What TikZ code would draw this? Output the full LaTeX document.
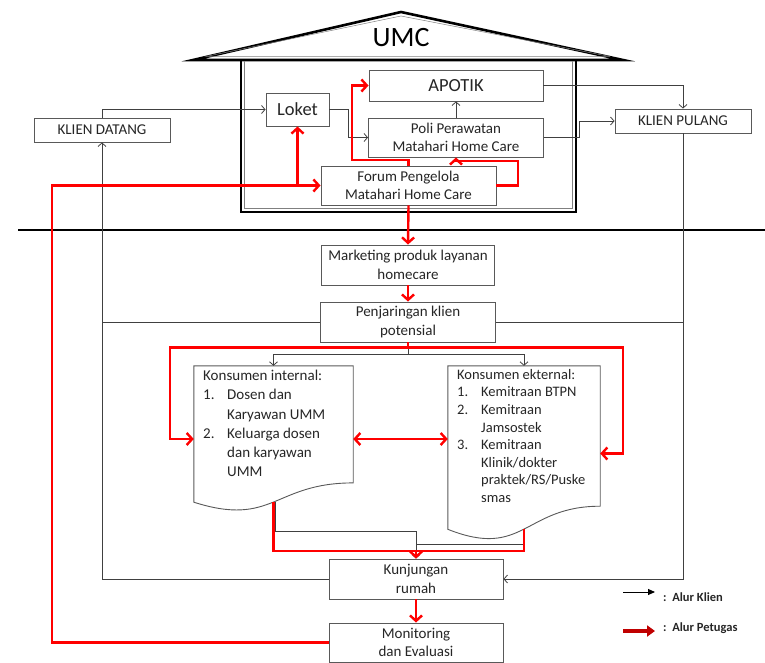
\documentclass[tikz,border=0pt]{standalone}
\usepackage{fontspec}
\setmainfont{Carlito}
\usetikzlibrary{arrows.meta,calc}
\definecolor{boxgray}{HTML}{595959}
\definecolor{linegray}{HTML}{404040}
\definecolor{txt}{HTML}{262626}
\definecolor{petugas}{HTML}{FF0000}
\definecolor{legred}{HTML}{C00000}
\begin{document}
\begin{tikzpicture}[x=1pt,y=-1pt,
  box/.style={draw=boxgray,line width=0.9pt,fill=white,text=txt,align=center,inner sep=1pt,font=\fontsize{15}{18.5}\selectfont},
  bigtxt/.style={font=\fontsize{18.5}{20}\selectfont},
  docnode/.style={draw=none,inner sep=0pt},
  docline/.style={draw=boxgray,line width=0.9pt,fill=white},
  doctext/.style={text=txt,align=left,inner sep=0pt},
  kline/.style={draw=linegray,line width=0.8pt},
  kl/.style={kline,-{Straight Barb[length=3.5pt,width=8pt]}},
  pt/.style={draw=petugas,line width=2.4pt},
  ptl/.style={pt,-{Straight Barb[length=5.5pt,width=12pt]}},
  ptboth/.style={pt,{Straight Barb[length=5.5pt,width=12pt]}-{Straight Barb[length=5.5pt,width=12pt]}},
  legtxt/.style={text=txt,font=\fontsize{12.5}{14}\selectfont\bfseries,inner sep=0pt}]
\useasboundingbox (0,0) rectangle (765,663);

% house
\draw[line width=2.6pt,line join=miter] (193,60) -- (401,12) -- (623,60) -- cycle;
\draw[line width=0.5pt,gray] (206,56.5) -- (401,16) -- (610,56.5) -- cycle;
\draw[line width=2.6pt] (241,61) -- (241,212) -- (576,212) -- (576,61);
\draw[line width=0.5pt,gray] (244.5,61) -- (244.5,208.5) -- (572.5,208.5) -- (572.5,61);
\node[font=\fontsize{28}{30}\selectfont,text=black] (umc) at (401,38) {UMC};

% separator
\draw[line width=2.6pt] (18,230) -- (765,230);

% boxes
\node[box,bigtxt,minimum width=174pt,minimum height=31pt] (apotik) at (456,85.5) {APOTIK};
\node[box,bigtxt,minimum width=63pt,minimum height=33pt] (loket) at (297.5,109.5) {Loket};
\node[box,minimum width=175pt,minimum height=39pt] (poli) at (456,137.5) {Poli Perawatan\\Matahari Home Care};
\node[box,minimum width=175pt,minimum height=39pt] (forum) at (408.5,185.5) {Forum Pengelola\\Matahari Home Care};
\node[box,minimum width=136pt,minimum height=24pt] (kd) at (102,130) {KLIEN DATANG};
\node[box,minimum width=136pt,minimum height=24pt] (kp) at (683,121) {KLIEN PULANG};
\node[box,minimum width=173pt,minimum height=40pt] (mkt) at (408,265) {Marketing produk layanan\\homecare};
\node[box,minimum width=175pt,minimum height=40pt] (penj) at (408,322) {Penjaringan klien\\potensial};
\node[box,minimum width=174pt,minimum height=40pt] (kunj) at (416,579) {Kunjungan\\rumah};
\node[box,minimum width=174pt,minimum height=39pt] (mon) at (416,642.5) {Monitoring\\dan Evaluasi};

% documents
\node[docnode,minimum width=159pt,minimum height=146pt] (int) at (273.5,439) {};
\draw[docline] (int.north west) -- (int.north east) -- ($(int.north east)+(0,117.1)$)
  .. controls ($(int.north)+(0,117.1)$) and ($(int.north)+(0,161.7)$) .. ($(int.north west)+(0,136.4)$) -- cycle;
\coordinate (intb) at ($(int.north)+(0,136.2)$);
\node[docnode,minimum width=152pt,minimum height=175pt] (ext) at (524,453.5) {};
\draw[docline] (ext.north west) -- (ext.north east) -- ($(ext.north east)+(0,140.4)$)
  .. controls ($(ext.north)+(0,140.4)$) and ($(ext.north)+(0,193.8)$) .. ($(ext.north west)+(0,163.5)$) -- cycle;
\coordinate (extb) at ($(ext.north)+(0,163.3)$);

\node[doctext,anchor=north west,font=\fontsize{15}{19.2}\selectfont] (inttxt) at (203,370)
  {Konsumen internal:\\
   \makebox[24pt][l]{1.}Dosen dan\\
   \hspace*{24pt}Karyawan UMM\\
   \makebox[24pt][l]{2.}Keluarga dosen\\
   \hspace*{24pt}dan karyawan\\
   \hspace*{24pt}UMM};
\node[doctext,anchor=north west,font=\fontsize{14.5}{17.6}\selectfont] (exttxt) at (457,369)
  {Konsumen ekternal:\\
   \makebox[24pt][l]{1.}Kemitraan BTPN\\
   \makebox[24pt][l]{2.}Kemitraan\\
   \hspace*{24pt}Jamsostek\\
   \makebox[24pt][l]{3.}Kemitraan\\
   \hspace*{24pt}Klinik/dokter\\
   \hspace*{24pt}praktek/RS/Puske\\
   \hspace*{24pt}smas};

% client flow (black)
\draw[kl] (kd.north) |- (loket.west);
\draw[kl] (kunj.west) -| (kd.south);
\draw[kline] (penj.west) -- (penj.west -| kd.south);
\draw[kl] (loket.east) -| ($(loket.east)!0.5!(poli.west)$) |- (poli.west);
\draw[kl] (poli.north) -- (apotik.south);
\draw[kl] (apotik.east) -| (kp.north);
\draw[kl] (poli.east) -| ($(poli.east)!0.5!(kp.west)$) |- (kp.west);
\draw[kl] (kp.south) |- (kunj.east);
\draw[kline] (penj.east) -- (penj.east -| kp.south);
\coordinate (split) at ($(penj.south)+(0,12)$);
\draw[kline] (penj.south) -- (split);
\draw[kl] (split) -| (int.north);
\draw[kl] (split) -| (ext.north);
\draw[kl] ($(intb)+(1.5,0)$) -- ($(intb)+(1.5,29)$) -| (kunj.north);
\draw[kline] (extb) |- ($(kunj.north)+(0,-14)$);

% staff flow (red)
\coordinate (redleft) at (52,400);
\draw[ptl] (mon.west) -| (redleft) |- (forum.west);
\draw[ptl] (loket.south |- forum.west) -- (loket.south);
\coordinate (rA) at (352,160);
\draw[ptl] (forum.north) |- (rA) |- (apotik.west);
\coordinate (rB) at (518,161);
\draw[ptl] (forum.east) -| (rB) -| (poli.south);
\draw[ptl] (forum.south) -- (mkt.north);
\draw[ptl] (mkt.south) -- (penj.north);
\coordinate (rsplit) at ($(penj.south)+(0,5)$);
\draw[pt] (penj.south) -- (rsplit);
\draw[ptl] (rsplit) -| ($(int.west)+(-24,0)$) -- (int.west);
\draw[ptl] (rsplit) -| ($(ext.east)+(23,0)$) -- (ext.east);
\draw[ptboth] (int.east) -- (int.east -| ext.west);
\coordinate (rbot) at ($(intb)+(0,49)$);
\draw[pt] (intb) -- (intb |- rbot) -- (extb |- rbot) -- (extb);
\draw[ptl] (kunj.north |- rbot) -- (kunj.north);
\draw[ptl] (kunj.south) -- (mon.north);

% legend
\node[legtxt,anchor=west] (legk) at (663,597) {:\ \ Alur Klien};
\node[legtxt,anchor=west] (legp) at (663,628) {:\ \ Alur Petugas};
\coordinate (lk1) at ($(legk.west)+(-40,-5)$);
\coordinate (lk2) at ($(legk.west)+(-8,-5)$);
\coordinate (lp1) at ($(legp.west)+(-40,3)$);
\coordinate (lp2) at ($(legp.west)+(-8,3)$);
\draw[black,line width=0.9pt,-{Triangle[length=7pt,width=6pt]}] (lk1) -- (lk2);
\draw[legred,line width=3.2pt,-{Triangle[length=8pt,width=11pt]}] (lp1) -- (lp2);
\end{tikzpicture}
\end{document}
